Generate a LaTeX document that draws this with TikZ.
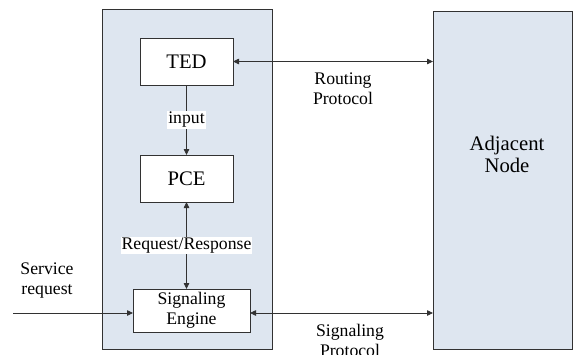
\documentclass[tikz,border=0pt]{standalone}
\usepackage{fontspec}
\setmainfont{Liberation Serif}
\usetikzlibrary{arrows.meta,calc}
\definecolor{boxfill}{RGB}{222,230,240}
\definecolor{linec}{RGB}{50,50,50}
\tikzset{
  every node/.style={inner sep=0pt, outer sep=0pt},
  bigbox/.style={draw=linec, fill=boxfill, line width=0.8pt},
  funcbox/.style={draw=linec, fill=white, line width=0.8pt, align=center},
  bigtxt/.style={font=\fontsize{20.7}{22}\selectfont, align=center},
  smalltxt/.style={font=\fontsize{17.7}{20}\selectfont, align=center},
  conn/.style={draw=linec, line width=0.8pt, -{Triangle[length=6pt,width=5.5pt]}},
  dconn/.style={draw=linec, line width=0.8pt, {Triangle[length=6pt,width=5.5pt]}-{Triangle[length=6pt,width=5.5pt]}},
  lbl/.style={smalltxt, fill=white, inner sep=1pt},
}
\begin{document}
\begin{tikzpicture}[x=1pt,y=-1pt]
\useasboundingbox (0,0) rectangle (573,354);
% containers
\node[bigbox, minimum width=170pt, minimum height=340pt] (host) at (187,179) {};
\node[bigbox, minimum width=139pt, minimum height=338pt] (adj) at (502.5,180) {};
\node[bigtxt] (adjtxt) at (507,154) {Adjacent\\Node};
% function boxes
\node[funcbox, bigtxt, minimum width=93pt, minimum height=47pt] (ted) at (186.5,61.5) {TED};
\node[funcbox, bigtxt, minimum width=93pt, minimum height=47pt] (pce) at (186.5,178.5) {PCE};
\node[funcbox, smalltxt, minimum width=117pt, minimum height=43pt] (se) at (191.5,310.5) {Signaling\\Engine};
% connectors
\coordinate (s0) at (13,313);
\draw[conn] (ted.south) -- (pce.north) node[lbl, pos=0.5] (inputlbl) {input};
\draw[dconn] (pce.south) -- (pce.south |- se.north) node[lbl, pos=0.5] (rrlbl) {Request/Response};
\draw[conn] (s0) -- (s0 -| se.west);
\draw[dconn] (ted.east) -- (ted.east -| adj.west);
\draw[dconn] (s0 -| se.east) -- (s0 -| adj.west);
% labels
\node[smalltxt] (svc) at (47,281) {Service\\request};
\node[smalltxt] (rp) at (343,89) {Routing\\Protocol};
\node[smalltxt] (sp) at (350,340) {Signaling\\Protocol};
\end{tikzpicture}
\end{document}
